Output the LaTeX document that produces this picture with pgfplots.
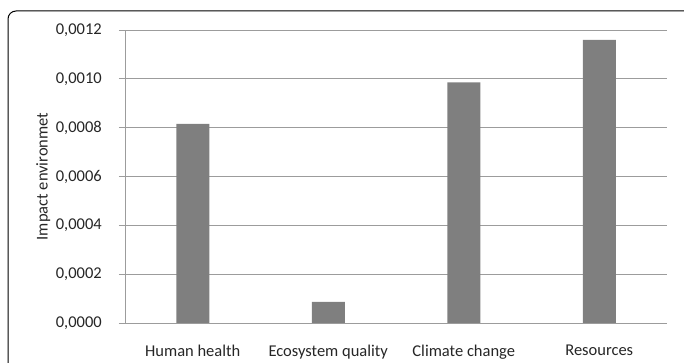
\documentclass[border=0pt]{standalone}
\usepackage{pgfplots}
\pgfplotsset{compat=1.18}
\usepackage{fontspec}
\setmainfont{Carlito}
\definecolor{barc}{HTML}{7F7F7F}
\definecolor{gridc}{HTML}{9C9C9C}
\begin{document}
\begin{tikzpicture}
\begin{axis}[
  at={(125pt,40pt)}, anchor=south west,
  scale only axis, width=542pt, height=293pt,
  ymin=0, ymax=0.0012,
  xmin=-0.5, xmax=3.5,
  ytick={0,0.0002,0.0004,0.0006,0.0008,0.0010,0.0012},
  scaled y ticks=false,
  yticklabel style={/pgf/number format/fixed, /pgf/number format/fixed zerofill, /pgf/number format/precision=4, /pgf/number format/use comma, /pgf/number format/assume math mode=true},
  xtick={0,1,2,3},
  xticklabels={Human health, Ecosystem quality, Climate change, Resources},
  ymajorgrids,
  grid style={gridc, line width=0.9pt},
  axis x line*=bottom, axis y line*=left,
  axis line style={gridc, line width=0.9pt, -},
  ytick style={gridc, line width=0.9pt},
  xtick style={draw=none},
  tick align=outside,
  major tick length=6pt,
  tick label style={font=\fontsize{16.5}{19}\selectfont, text=black!85},
  yticklabel style={inner sep=0pt, xshift=-17pt},
  xticklabel style={inner sep=0pt, yshift=-16pt},
  ylabel={Impact environmet},
  ylabel style={at={(axis description cs:-0.151,0.5)}, anchor=center, font=\fontsize{16.5}{19}\selectfont, text=black!85},
]
\addplot[ybar, bar width=33pt, bar shift=0pt, fill=barc, draw=none] coordinates {
  (0,0.000815) (1,0.000087) (2,0.000985) (3,0.001160)
};
\end{axis}
\draw[black, line width=1pt, rounded corners=8pt] (8pt,-30pt) -- (8pt,352pt) -- (694pt,352pt) -- (694pt,-30pt);
\pgfresetboundingbox
\useasboundingbox (0,0) rectangle (684pt,363pt);
\end{tikzpicture}
\end{document}
